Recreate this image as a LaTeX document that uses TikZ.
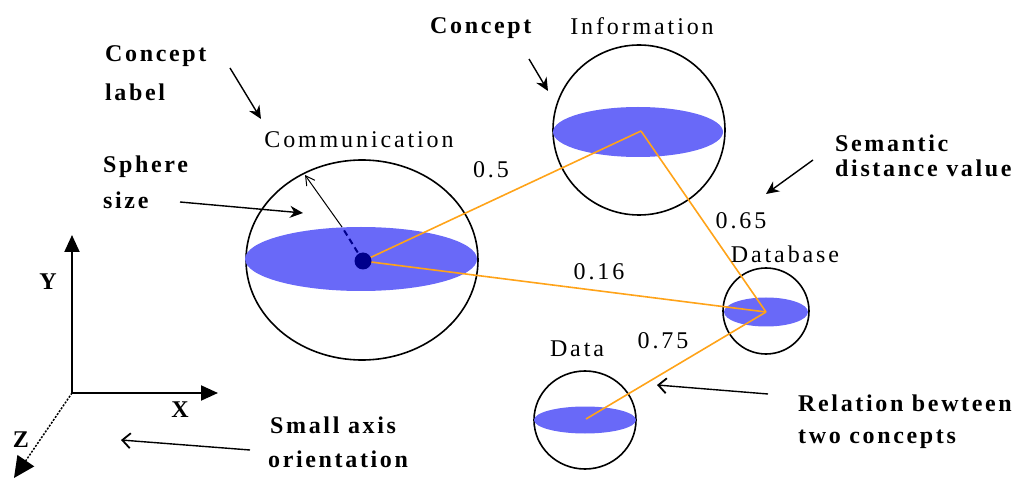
\documentclass[tikz,border=0pt]{standalone}
\usepackage{fontspec}
\setmainfont{Liberation Serif}
\newfontfamily\lblfont[LetterSpace=12]{Liberation Serif}
\newfontfamily\notefont[LetterSpace=11]{Liberation Serif}
\usetikzlibrary{arrows.meta}
\definecolor{discblue}{RGB}{105,105,248}
\definecolor{dotblue}{RGB}{0,0,140}
\definecolor{relorange}{RGB}{255,163,25}
\tikzset{
  lbl/.style={font=\lblfont\fontsize{24}{28}\selectfont, inner sep=0pt},
  note/.style={font=\notefont\bfseries\fontsize{24}{28}\selectfont, inner sep=0pt, anchor=base west},
  axlbl/.style={font=\notefont\bfseries\fontsize{24}{28}\selectfont, inner sep=0pt},
  rim/.style={draw=black, line width=1.6pt},
  disc/.style={fill=discblue},
  rel/.style={draw=relorange, line width=1.6pt},
  pointer/.style={draw=black, line width=1.4pt, -{Stealth[length=13pt,width=12pt]}},
  barbptr/.style={draw=black, line width=1.4pt, -{Straight Barb[length=8pt,width=15pt,line width=1.8pt]}},
  axisline/.style={draw=black, line width=2pt, -{Triangle[length=17pt,width=15pt]}}
}
\begin{document}
\begin{tikzpicture}[x=1pt,y=-1pt]
\useasboundingbox (0,0) rectangle (1020,478);

% sphere centres
\coordinate (comm) at (363,261);
\coordinate (info) at (641,131);
\coordinate (db)   at (766,312);
\coordinate (data) at (586,419);

% spheres: outline and equatorial disc
\draw[rim] (362,260) ellipse [x radius=116pt, y radius=100pt];
\fill[disc] (361,259) ellipse [x radius=116pt, y radius=32pt];
\draw[rim] (639,130) ellipse [x radius=86pt, y radius=85pt];
\fill[disc] (638,132) ellipse [x radius=85pt, y radius=25pt];
\draw[rim] (766,311) ellipse [x radius=43pt, y radius=43pt];
\fill[disc] (766,312) ellipse [x radius=42pt, y radius=14.5pt];
\draw[rim] (585,420) ellipse [x radius=51pt, y radius=49pt];
\fill[disc] (585,420) ellipse [x radius=51pt, y radius=13.5pt];

% relations between concepts
\draw[rel] (comm) -- (info);
\draw[rel] (info) -- (db);
\draw[rel] (comm) -- (db);
\draw[rel] (db) -- (data);

% centre of the main sphere and its radius
\fill[dotblue] (comm) circle [radius=8.5pt];
\coordinate (rimpt) at (305,175);
\coordinate (dashend) at (342,227);
\draw[dotblue, line width=2pt, dash pattern=on 6pt off 4pt] (comm) -- (dashend);
\draw[black, line width=1pt, -{Straight Barb[length=9pt,width=10pt]}] (dashend) -- (rimpt);

% concept labels
\node[lbl] (commlbl) at (359,140) {Communication};
\node[lbl] (infolbl) at (642,26) {Information};
\node[lbl] (dblbl)   at (785,254) {Database};
\node[lbl] (datalbl) at (577,349) {Data};

% semantic distance values
\node[lbl] (w1) at (491,170) {0.5};
\node[lbl] (w2) at (599,272) {0.16};
\node[lbl] (w3) at (741,221) {0.65};
\node[lbl] (w4) at (663,341) {0.75};

% axes
\coordinate (o) at (72,393);
\coordinate (ytip) at (72,235);
\coordinate (xtip) at (218,393);
\coordinate (ztip) at (14,478);
\draw[axisline] (o) -- (ytip);
\draw[axisline] (o) -- (xtip);
\draw[black, line width=1.5pt, dash pattern=on 2pt off 1.5pt, -{Triangle[length=21pt,width=20pt]}] (o) -- (ztip);
\node[axlbl] (ylbl) at (48,282) {Y};
\node[axlbl] (xlbl) at (180,410) {X};
\node[axlbl] (zlbl) at (21,440) {Z};

% annotations
\node[note] (n1a) at (105,62) {Concept};
\node[note] (n1b) at (105,101) {label};
\node[note] (n2a) at (103,173) {Sphere};
\node[note] (n2b) at (103,209) {size};
\node[note] (n3)  at (430,34) {Concept};
\node[note] (n4a) at (835,152) {Semantic};
\node[note] (n4b) at (835,177) {distance value};
\node[note] (n5a) at (798,411) {Relation bewteen};
\node[note] (n5b) at (798,443) {two concepts};
\node[note] (n6a) at (270,433) {Small axis};
\node[note] (n6b) at (268,467) {orientation};

\coordinate (a1s) at (230,68);  \coordinate (a1e) at (261,119);
\coordinate (a2s) at (180,202); \coordinate (a2e) at (303,213);
\coordinate (a3s) at (529,59);  \coordinate (a3e) at (548,91);
\coordinate (a4s) at (813,160); \coordinate (a4e) at (766,194);
\coordinate (a5s) at (768,394); \coordinate (a5e) at (657,385);
\coordinate (a6s) at (250,450); \coordinate (a6e) at (121,440);
\draw[pointer] (a1s) -- (a1e);
\draw[pointer] (a2s) -- (a2e);
\draw[pointer] (a3s) -- (a3e);
\draw[pointer] (a4s) -- (a4e);
\draw[barbptr] (a5s) -- (a5e);
\draw[barbptr] (a6s) -- (a6e);
\end{tikzpicture}
\end{document}
